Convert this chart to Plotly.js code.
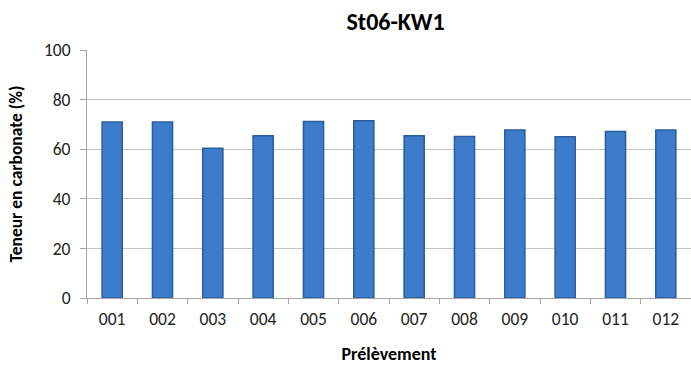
<!DOCTYPE html>
<html><head><meta charset="utf-8">
<script src="https://cdn.plot.ly/plotly-3.0.1.min.js"></script>
<style>html,body{margin:0;padding:0;background:#fff}#chart{width:691px;height:365px}</style>
</head><body><div id="chart"></div>
<script>
const categories = ["001","002","003","004","005","006","007","008","009","010","011","012"];
const values = [71.0, 71.0, 60.4, 65.4, 71.2, 71.5, 65.4, 65.1, 67.7, 65.0, 67.1, 67.7];
const yTicks = [0, 20, 40, 60, 80, 100];

const FONT = "Carlito, Calibri, 'Open Sans', sans-serif";
const trace = {
  type: "bar",
  x: categories,
  y: values,
  marker: {color: "#3d7bcb", line: {color: "#2a5c9e", width: 1.5}},
  hoverinfo: "x+y"
};
const layout = {
  width: 691, height: 365,
  margin: {l: 87, r: 0, t: 50, b: 67},
  paper_bgcolor: "#ffffff", plot_bgcolor: "#ffffff",
  font: {family: FONT, size: 15, color: "#000"},
  bargap: 0.6,
  showlegend: false,
  title: {text: "<b>St06-KW1</b>", xref: "paper", xanchor: "center", y: 0.94, yanchor: "middle",
          font: {family: FONT, size: 24, color: "#000"}},
  xaxis: {
    type: "category",
    showline: true, linecolor: "#a6a6a6", linewidth: 1,
    ticks: "outside", tickson: "boundaries", ticklen: 5, tickcolor: "#a6a6a6",
    tickfont: {family: FONT, size: 17.5, color: "#222"},
    ticklabelstandoff: 5,
    showgrid: false,
    title: {text: "<b>Prélèvement</b>", font: {family: FONT, size: 18, color: "#000"}, standoff: 19}
  },
  yaxis: {
    range: [0, 100],
    tickvals: yTicks,
    ticktext: yTicks.map(String),
    showline: true, linecolor: "#a6a6a6", linewidth: 1,
    ticks: "outside", ticklen: 6, tickcolor: "#a6a6a6",
    ticklabelstandoff: 6,
    showgrid: true, gridcolor: "#c4c4c4", gridwidth: 1,
    zeroline: false,
    tickfont: {family: FONT, size: 17.5, color: "#222"},
    title: {text: "<b>Teneur en carbonate (%)</b>", font: {family: FONT, size: 17.5, color: "#000"}, standoff: 16}
  }
};
layout.title.x = 353 / 691;
Plotly.newPlot("chart", [trace], layout, {displayModeBar: false, staticPlot: true});
</script>
</body></html>
